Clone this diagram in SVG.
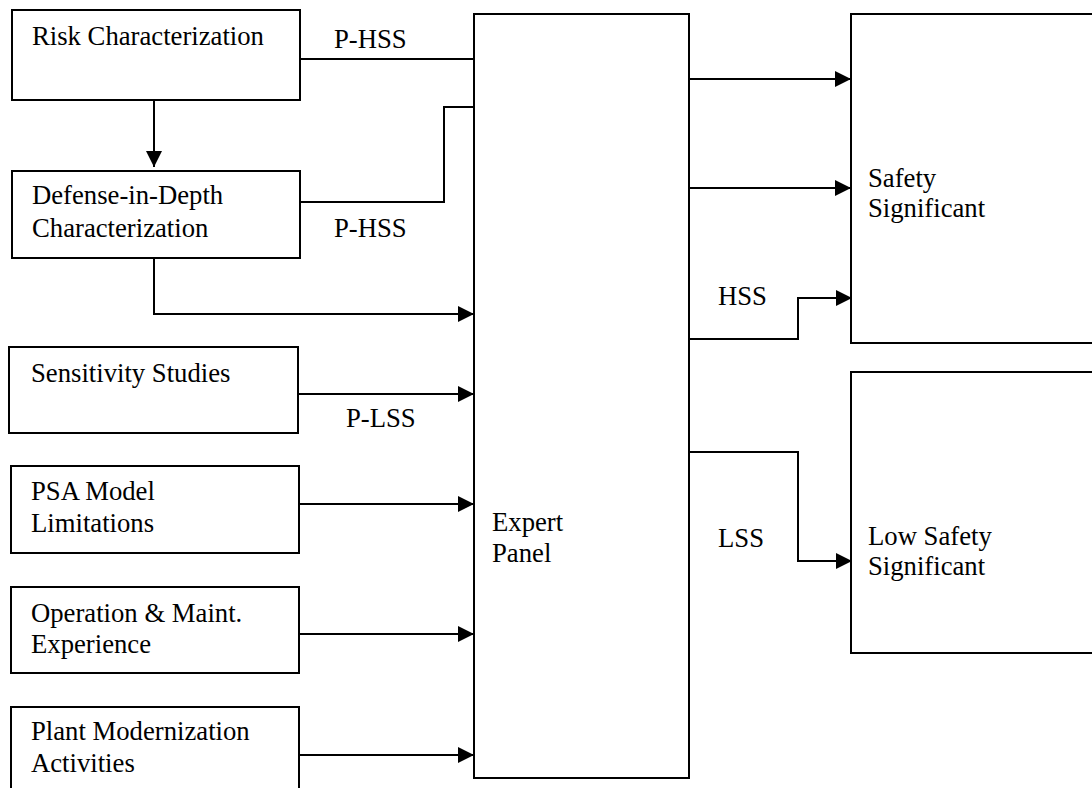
<svg xmlns="http://www.w3.org/2000/svg" width="1092" height="788" viewBox="0 0 1092 788">
  <style>
    .box { fill: #ffffff; stroke: #000000; stroke-width: 2; }
    .lbl { font-family: "Liberation Serif", "Times New Roman", serif; font-size: 26.7px; fill: #000000; }
    .wire { fill: none; stroke: #000000; stroke-width: 2; }
  </style>
  <defs>
    <marker id="head" markerUnits="userSpaceOnUse" markerWidth="16" markerHeight="16" viewBox="0 0 16 16" refX="16" refY="8" orient="auto">
      <path d="M0,0 L16,8 L0,16 Z" fill="#000000"/>
    </marker>
  </defs>
  <rect width="1092" height="788" fill="#ffffff"/>

  <g id="risk">
    <rect class="box" x="12" y="10" width="288" height="90"/>
    <text class="lbl" x="32" y="45">Risk Characterization</text>
  </g>
  <g id="defense">
    <rect class="box" x="12" y="171" width="288" height="87"/>
    <text class="lbl" x="32" y="204">Defense-in-Depth</text>
    <text class="lbl" x="32" y="237">Characterization</text>
  </g>
  <g id="sensitivity">
    <rect class="box" x="9" y="347" width="289" height="86"/>
    <text class="lbl" x="31" y="382">Sensitivity Studies</text>
  </g>
  <g id="psa">
    <rect class="box" x="11" y="466" width="288" height="87"/>
    <text class="lbl" x="31" y="500">PSA Model</text>
    <text class="lbl" x="31" y="532">Limitations</text>
  </g>
  <g id="operation">
    <rect class="box" x="11" y="587" width="288" height="86"/>
    <text class="lbl" x="31" y="622">Operation &amp; Maint.</text>
    <text class="lbl" x="31" y="653">Experience</text>
  </g>
  <g id="plant">
    <rect class="box" x="11" y="707" width="288" height="100"/>
    <text class="lbl" x="31" y="740">Plant Modernization</text>
    <text class="lbl" x="31" y="772">Activities</text>
  </g>
  <g id="expert">
    <rect class="box" x="474" y="14" width="215" height="764"/>
    <text class="lbl" x="492" y="531">Expert</text>
    <text class="lbl" x="492" y="562">Panel</text>
  </g>
  <g id="safety">
    <rect class="box" x="851" y="14" width="260" height="329"/>
    <text class="lbl" x="868" y="187">Safety</text>
    <text class="lbl" x="868" y="217">Significant</text>
  </g>
  <g id="lowsafety">
    <rect class="box" x="851" y="372" width="260" height="281"/>
    <text class="lbl" x="868" y="545">Low Safety</text>
    <text class="lbl" x="868" y="575">Significant</text>
  </g>

  <g id="connectors">
    <path class="wire" d="M154,100 V167" marker-end="url(#head)"/>
    <path class="wire" d="M300,59 H474"/>
    <path class="wire" d="M300,202 H444 V107 H474"/>
    <path class="wire" d="M154,258 V314 H474" marker-end="url(#head)"/>
    <path class="wire" d="M298,394 H474" marker-end="url(#head)"/>
    <path class="wire" d="M299,504 H474" marker-end="url(#head)"/>
    <path class="wire" d="M299,634 H474" marker-end="url(#head)"/>
    <path class="wire" d="M299,755 H474" marker-end="url(#head)"/>
    <path class="wire" d="M689,79 H851" marker-end="url(#head)"/>
    <path class="wire" d="M689,188 H851" marker-end="url(#head)"/>
    <path class="wire" d="M689,339 H798 V298 H852" marker-end="url(#head)"/>
    <path class="wire" d="M689,452 H798 V561 H852" marker-end="url(#head)"/>
    <text class="lbl" x="334" y="48">P-HSS</text>
    <text class="lbl" x="334" y="237">P-HSS</text>
    <text class="lbl" x="346" y="427">P-LSS</text>
    <text class="lbl" x="718" y="305">HSS</text>
    <text class="lbl" x="718" y="547">LSS</text>
  </g>
</svg>
